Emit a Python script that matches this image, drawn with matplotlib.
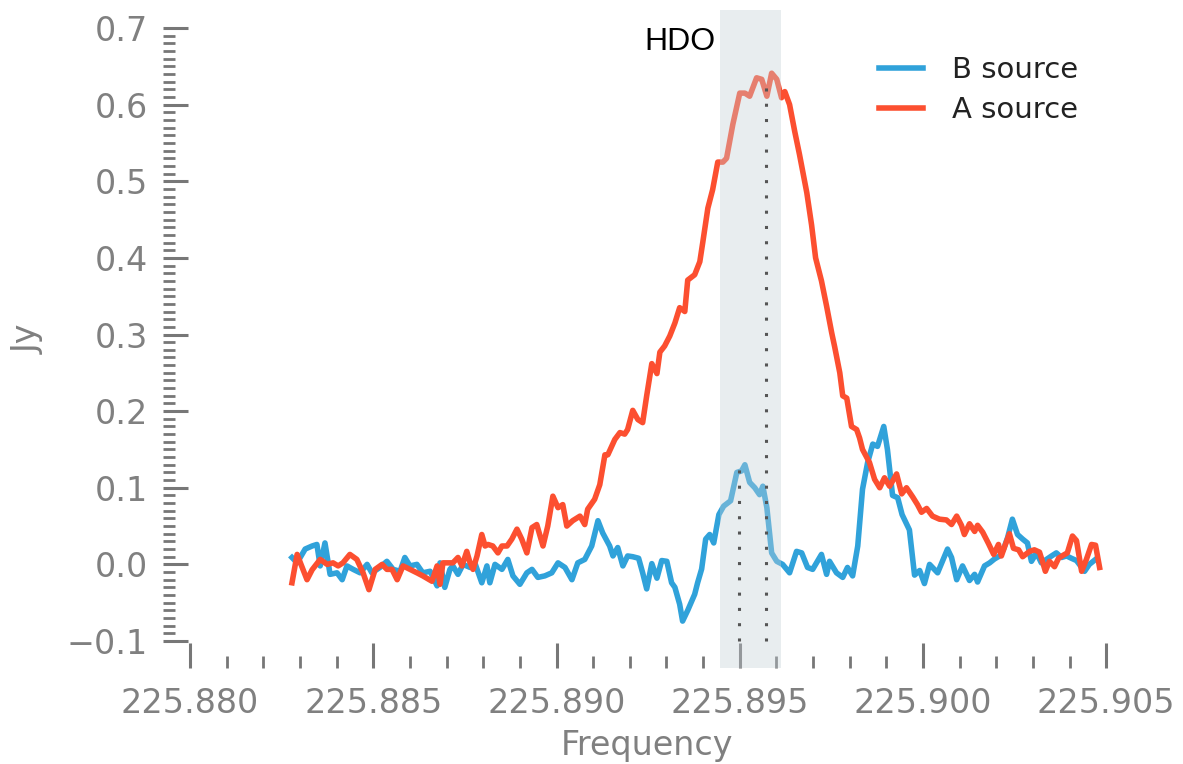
import numpy as np
import matplotlib
matplotlib.use("Agg")
import matplotlib.pyplot as plt
from matplotlib.ticker import FuncFormatter

# ---------------- data ----------------
freq_b = [225.88278, 225.88292, 225.88314, 225.88333, 225.88346, 225.88355, 225.88368, 225.88382,
          225.88401, 225.88415, 225.88428, 225.88445, 225.88464, 225.88483, 225.88496, 225.88518,
          225.88537, 225.88554, 225.88573, 225.88586, 225.88600, 225.88619, 225.88635, 225.88655,
          225.88674, 225.88682, 225.88695, 225.88709, 225.88717, 225.88731, 225.88745, 225.88764,
          225.88777, 225.88796, 225.88810, 225.88818, 225.88832, 225.88851, 225.88867, 225.88881,
          225.88900, 225.88919, 225.88933, 225.88949, 225.88968, 225.88987, 225.89004, 225.89023,
          225.89042, 225.89058, 225.89077, 225.89096, 225.89113, 225.89126, 225.89145, 225.89154,
          225.89167, 225.89181, 225.89194, 225.89208, 225.89224, 225.89235, 225.89246, 225.89260,
          225.89274, 225.89287, 225.89301, 225.89314, 225.89323, 225.89336, 225.89344, 225.89358,
          225.89377, 225.89385, 225.89396, 225.89407, 225.89418, 225.89429, 225.89443, 225.89456,
          225.89475, 225.89492, 225.89505, 225.89514, 225.89527, 225.89541, 225.89554, 225.89563,
          225.89574, 225.89587, 225.89601, 225.89617, 225.89636, 225.89655, 225.89669, 225.89685,
          225.89699, 225.89723, 225.89737, 225.89745, 225.89764, 225.89781, 225.89794, 225.89808,
          225.89822, 225.89835, 225.89849, 225.89863, 225.89876, 225.89893, 225.89903, 225.89917,
          225.89931, 225.89943, 225.89963, 225.89977, 225.89991, 225.90004, 225.90018, 225.90040,
          225.90053, 225.90067, 225.90078, 225.90092, 225.90108, 225.90127, 225.90141, 225.90149,
          225.90168, 225.90182, 225.90195, 225.90209, 225.90220, 225.90231, 225.90244, 225.90258,
          225.90272, 225.90285, 225.90296, 225.90310, 225.90323, 225.90337, 225.90351, 225.90364,
          225.90378, 225.90392, 225.90405, 225.90419, 225.90433, 225.90441, 225.90454, 225.90471]
flux_b = [0.009, 0.002, 0.020, 0.024, 0.026, -0.002, 0.028, -0.013,
          -0.011, -0.020, -0.002, -0.0065, -0.011, 0.000, -0.011, -0.004,
          0.004, -0.0065, -0.009, 0.009, -0.002, 0.000, -0.011, -0.009,
          -0.028, 0.002, -0.030, -0.0065, -0.002, -0.013, 0.000, -0.004,
          0.002, -0.024, -0.002, -0.024, 0.000, -0.0065, 0.0065, -0.015,
          -0.026, -0.011, -0.0065, -0.017, -0.015, -0.011, 0.002, -0.004,
          -0.020, 0.002, 0.0065, 0.024, 0.057, 0.041, 0.024, 0.011,
          0.022, -0.002, 0.011, 0.010, 0.008, -0.011, -0.032, 0.001,
          -0.018, 0.005, 0.004, -0.024, -0.030, -0.052, -0.074, -0.060,
          -0.039, -0.024, -0.006, 0.033, 0.039, 0.028, 0.065, 0.076,
          0.083, 0.120, 0.122, 0.130, 0.107, 0.100, 0.091, 0.102,
          0.074, 0.015, 0.004, 0.000, -0.011, 0.017, 0.015, -0.004,
          -0.0065, 0.013, -0.013, 0.004, -0.011, -0.017, -0.004, -0.015,
          0.024, 0.098, 0.133, 0.157, 0.154, 0.180, 0.150, 0.090,
          0.087, 0.065, 0.045, -0.014, -0.008, -0.025, 0.000, -0.011,
          0.004, 0.020, 0.009, -0.020, -0.002, -0.021, -0.013, -0.023,
          -0.002, 0.002, 0.007, 0.011, 0.020, 0.035, 0.059, 0.039,
          0.033, 0.028, 0.004, 0.015, 0.002, 0.0065, 0.011, 0.015,
          0.009, 0.011, 0.008, 0.005, -0.004, -0.009, 0.000, 0.0065]

freq_a = [225.88278, 225.88292, 225.88319, 225.88333, 225.88355, 225.88374, 225.88390, 225.88404,
          225.88417, 225.88436, 225.88455, 225.88472, 225.88488, 225.88505, 225.88524, 225.88537,
          225.88551, 225.88565, 225.88581, 225.88600, 225.88619, 225.88635, 225.88660, 225.88674,
          225.88682, 225.88690, 225.88704, 225.88717, 225.88731, 225.88742, 225.88755, 225.88764,
          225.88772, 225.88783, 225.88796, 225.88805, 225.88813, 225.88826, 225.88840, 225.88851,
          225.88865, 225.88878, 225.88892, 225.88905, 225.88919, 225.88933, 225.88946, 225.88963,
          225.88976, 225.88990, 225.89004, 225.89017, 225.89028, 225.89044, 225.89064, 225.89077,
          225.89085, 225.89104, 225.89118, 225.89132, 225.89140, 225.89159, 225.89173, 225.89186,
          225.89194, 225.89208, 225.89222, 225.89235, 225.89246, 225.89260, 225.89274, 225.89282,
          225.89295, 225.89309, 225.89323, 225.89336, 225.89350, 225.89358, 225.89377, 225.89391,
          225.89399, 225.89413, 225.89426, 225.89440, 225.89454, 225.89464, 225.89481, 225.89500,
          225.89514, 225.89527, 225.89546, 225.89560, 225.89574, 225.89587, 225.89601, 225.89614,
          225.89623, 225.89636, 225.89650, 225.89663, 225.89683, 225.89696, 225.89707, 225.89723,
          225.89737, 225.89751, 225.89759, 225.89773, 225.89781, 225.89792, 225.89805, 225.89819,
          225.89827, 225.89835, 225.89854, 225.89868, 225.89882, 225.89895, 225.89909, 225.89928,
          225.89942, 225.89955, 225.89972, 225.89985, 225.89996, 225.90010, 225.90026, 225.90045,
          225.90064, 225.90078, 225.90092, 225.90105, 225.90113, 225.90127, 225.90141, 225.90149,
          225.90163, 225.90179, 225.90193, 225.90206, 225.90214, 225.90225, 225.90236, 225.90247,
          225.90261, 225.90272, 225.90291, 225.90304, 225.90318, 225.90326, 225.90334, 225.90345,
          225.90359, 225.90370, 225.90383, 225.90394, 225.90408, 225.90419, 225.90433, 225.90446,
          225.90460, 225.90471, 225.90482]
flux_a = [-0.024, 0.013, -0.020, -0.007, 0.0065, 0.000, 0.002, -0.002,
          0.002, 0.013, 0.0065, -0.011, -0.033, -0.0065, 0.000, -0.0065,
          -0.0065, -0.020, -0.002, -0.0065, -0.011, -0.015, -0.022, -0.002,
          -0.026, 0.002, 0.002, 0.002, 0.009, -0.002, 0.017, 0.002,
          -0.0065, 0.011, 0.039, 0.024, 0.026, 0.024, 0.015, 0.024,
          0.024, 0.033, 0.046, 0.033, 0.015, 0.048, 0.052, 0.024,
          0.050, 0.089, 0.074, 0.078, 0.050, 0.057, 0.063, 0.052,
          0.072, 0.085, 0.104, 0.143, 0.143, 0.163, 0.172, 0.170,
          0.176, 0.201, 0.189, 0.185, 0.220, 0.262, 0.249, 0.277,
          0.285, 0.298, 0.315, 0.335, 0.330, 0.371, 0.378, 0.395,
          0.420, 0.465, 0.489, 0.525, 0.525, 0.530, 0.574, 0.615,
          0.615, 0.611, 0.635, 0.633, 0.611, 0.641, 0.633, 0.609,
          0.617, 0.600, 0.565, 0.535, 0.485, 0.443, 0.400, 0.370,
          0.337, 0.302, 0.284, 0.250, 0.220, 0.217, 0.180, 0.176,
          0.165, 0.150, 0.133, 0.111, 0.100, 0.113, 0.102, 0.118,
          0.092, 0.100, 0.088, 0.078, 0.068, 0.073, 0.063, 0.059,
          0.058, 0.052, 0.063, 0.051, 0.039, 0.053, 0.043, 0.051,
          0.042, 0.027, 0.013, 0.026, 0.011, 0.026, 0.040, 0.021,
          0.019, 0.010, 0.017, 0.019, 0.016, 0.004, -0.009, 0.004,
          -0.003, 0.008, 0.012, 0.015, 0.037, 0.031, -0.009, 0.0065,
          0.026, 0.025, -0.004]

series_labels = ["B source", "A source"]
line_label = "HDO"
band_lo, band_hi = 225.89445, 225.89612          # shaded HDO band
marker_freqs = [225.89497, 225.89571]            # dotted markers
marker_tops = [0.125, 0.625]
x_label = "Frequency"
y_label = "Jy"

# ---------------- figure ----------------
W, H, DPI = 1183, 764, 100
fig = plt.figure(figsize=(W / DPI, H / DPI), dpi=DPI)
ax = fig.add_axes([163 / W, 1 - 668 / H, (1130 - 163) / W, (668 - 10) / H])

blue, red = "#30a2da", "#fc4f30"
ax.plot(freq_b, flux_b, color=blue, lw=4.0, label=series_labels[0], zorder=2,
        solid_joinstyle="round")
ax.plot(freq_a, flux_a, color=red, lw=4.0, label=series_labels[1], zorder=3,
        solid_joinstyle="round")

ax.axvspan(band_lo, band_hi, color=(0.77, 0.815, 0.845), alpha=0.38, lw=0, zorder=4)
ax.vlines(marker_freqs, -0.1, marker_tops, colors="#555555", lw=2.2,
          linestyles=[(0, (1, 4))], zorder=5)

ax.set_xlim(225.87926, 225.90565)
ax.set_ylim(-0.13522, 0.72348)

for s in ax.spines.values():
    s.set_visible(False)

ax.set_xticks(np.arange(225.880, 225.9051, 0.005))
ax.set_xticks(np.arange(225.880, 225.9051, 0.001), minor=True)
ax.set_yticks(np.arange(-0.1, 0.701, 0.1))
ax.set_yticks(np.arange(-0.1, 0.7001, 0.01), minor=True)
ax.xaxis.set_major_formatter(FuncFormatter(lambda v, p: f"{v:.3f}"))
ax.yaxis.set_major_formatter(FuncFormatter(lambda v, p: f"{v:.1f}".replace("-", "\u2212")))

tick_col = "#777777"
ax.tick_params(which="major", direction="in", length=18, width=2.2, color=tick_col,
               labelcolor="#808080", labelsize=24)
ax.tick_params(which="minor", direction="in", length=8.5, width=2.0, color=tick_col)
ax.tick_params(axis="y", which="major", pad=11)
ax.tick_params(axis="x", which="major", pad=14)

ax.set_xlabel(x_label, fontsize=24, color="#808080", labelpad=6)
ax.set_ylabel(y_label, fontsize=24, color="#808080", labelpad=16)

leg = ax.legend(loc="upper left", bbox_to_anchor=(879 / W, 1 - 56 / H),
                bbox_transform=fig.transFigure, frameon=False, fontsize=21,
                handlelength=1.5, handletextpad=1.0, labelspacing=0.42,
                borderpad=0, borderaxespad=0)
for t in leg.get_texts():
    t.set_color("#222222")

fig.text(680 / W, 1 - 42 / H, line_label, fontsize=23, family="Liberation Sans",
         ha="center", va="center", color="black")

fig.savefig("out.png", dpi=DPI)
